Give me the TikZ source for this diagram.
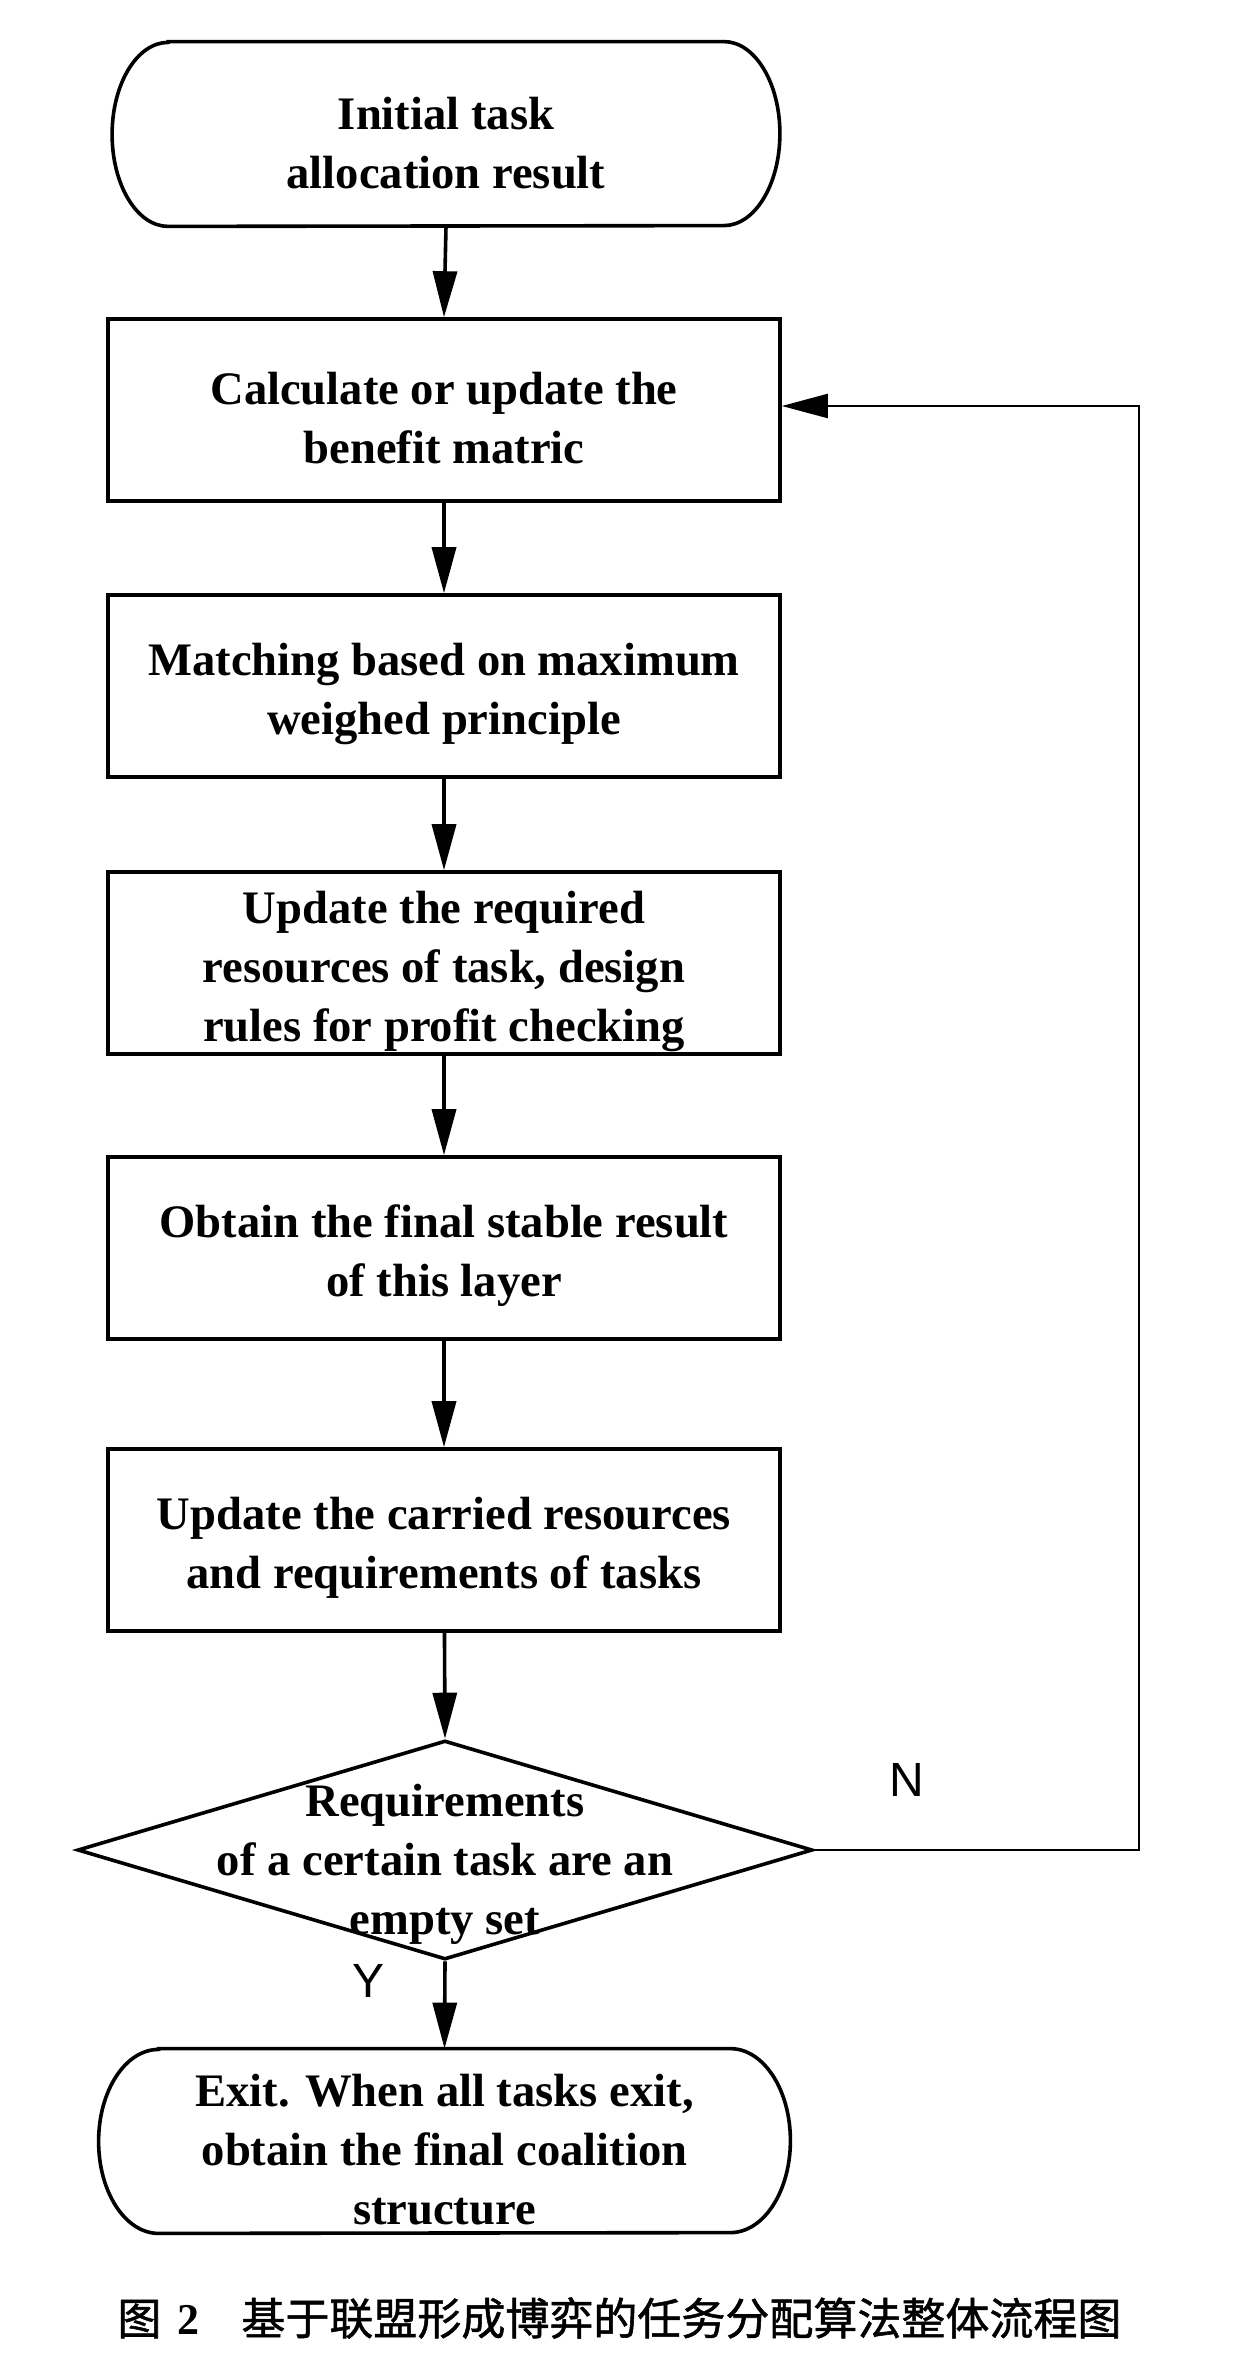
\documentclass[tikz,border=0pt]{standalone}
\usepackage{fontspec}
\setmainfont{Liberation Serif}
\newfontfamily\cjkfont[FakeBold=1.2]{Noto Sans CJK SC}
\newfontfamily\lsans{Liberation Sans}
\usetikzlibrary{shapes.geometric,arrows.meta}
\begin{document}
\begin{tikzpicture}[x=0.5pt,y=-0.5pt,
  txt/.style={font=\bfseries\fontsize{23.3}{29.5}\selectfont, align=center, inner sep=0pt},
  procbox/.style={draw, line width=1.8pt, minimum width=336pt, minimum height=91pt, inner sep=0pt},
  termshape/.style={minimum width=#1, minimum height=92pt, inner sep=0pt},
  termline/.style={line width=1.8pt},
  flow/.style={line width=1.8pt, -{Triangle[length=23pt,width=12pt]}},
  back/.style={line width=1.1pt, -{Triangle[length=23pt,width=12pt]}},
  yn/.style={font=\lsans\fontsize{24}{26}\selectfont}
]
\useasboundingbox (0,0) rectangle (1255,2360);
% start terminator
\node[termshape=333.5pt] (start) at (446,134) {};
\draw[termline] ([xshift=28pt]start.north west) -- ([xshift=-28pt]start.north east)
  arc[start angle=90, end angle=-90, x radius=28pt, y radius=46pt]
  -- ([xshift=28pt]start.south west)
  arc[start angle=270, end angle=90, x radius=28pt, y radius=46pt] -- cycle;
\node[txt] (startt) at ([yshift=-4.5pt]start.center) {Initial task\\allocation result};
% process boxes
\node[procbox] (b1) at (444,410) {};
\node[txt] (b1t) at ([yshift=-4pt]b1.center) {Calculate or update the\\benefit matric};
\node[procbox] (b2) at (444,686) {};
\node[txt] (b2t) at ([yshift=-4pt]b2.center) {Matching based on maximum\\weighed principle};
\node[procbox] (b3) at (444,963) {};
\node[txt] (b3t) at ([yshift=-4pt]b3.center) {Update the required\\resources of task, design\\rules for profit checking};
\node[procbox] (b4) at (444,1248) {};
\node[txt] (b4t) at ([yshift=-4pt]b4.center) {Obtain the final stable result\\of this layer};
\node[procbox] (b5) at (444,1540) {};
\node[txt] (b5t) at ([yshift=-4pt]b5.center) {Update the carried resources\\and requirements of tasks};
% decision
\node[draw, diamond, line width=1.8pt, minimum width=367.5pt, minimum height=109.5pt, inner sep=0pt] (dec) at (445,1850) {};
\node[txt] (dectxt) at (445,1864) {Requirements\\of a certain task are an\\empty set};
% end terminator
\node[termshape=345.5pt] (end) at (444.5,2141) {};
\draw[termline] ([xshift=30pt]end.north west) -- ([xshift=-30pt]end.north east)
  arc[start angle=90, end angle=-90, x radius=30pt, y radius=46pt]
  -- ([xshift=30pt]end.south west)
  arc[start angle=270, end angle=90, x radius=30pt, y radius=46pt] -- cycle;
\node[txt] (endt) at ([yshift=-4.5pt]end.center) {Exit. When all tasks exit,\\obtain the final coalition\\structure};
% connectors
\coordinate (c1) at (1139,1850);
\coordinate (c2) at (1139,406);
\draw[flow] (start.south) -- (b1.north);
\draw[flow] (b1) -- (b2);
\draw[flow] (b2) -- (b3);
\draw[flow] (b3) -- (b4);
\draw[flow] (b4) -- (b5);
\draw[flow] (b5) -- (dec.north);
\draw[flow] (dec.south) -- (end.north);
\draw[back] (dec.east) -- (c1) -- (c2) -- (b1.east |- c2);
\node[yn] (nlab) at (907,1780) {N};
\node[yn] (ylab) at (369,1981) {Y};
\node[anchor=west, inner sep=0pt, font=\cjkfont\fontsize{22}{26}\selectfont] (cap) at (117,2318) {图\hspace{8pt}{\rmfamily\bfseries 2}\hspace{21pt}基于联盟形成博弈的任务分配算法整体流程图};
\end{tikzpicture}
\end{document}
